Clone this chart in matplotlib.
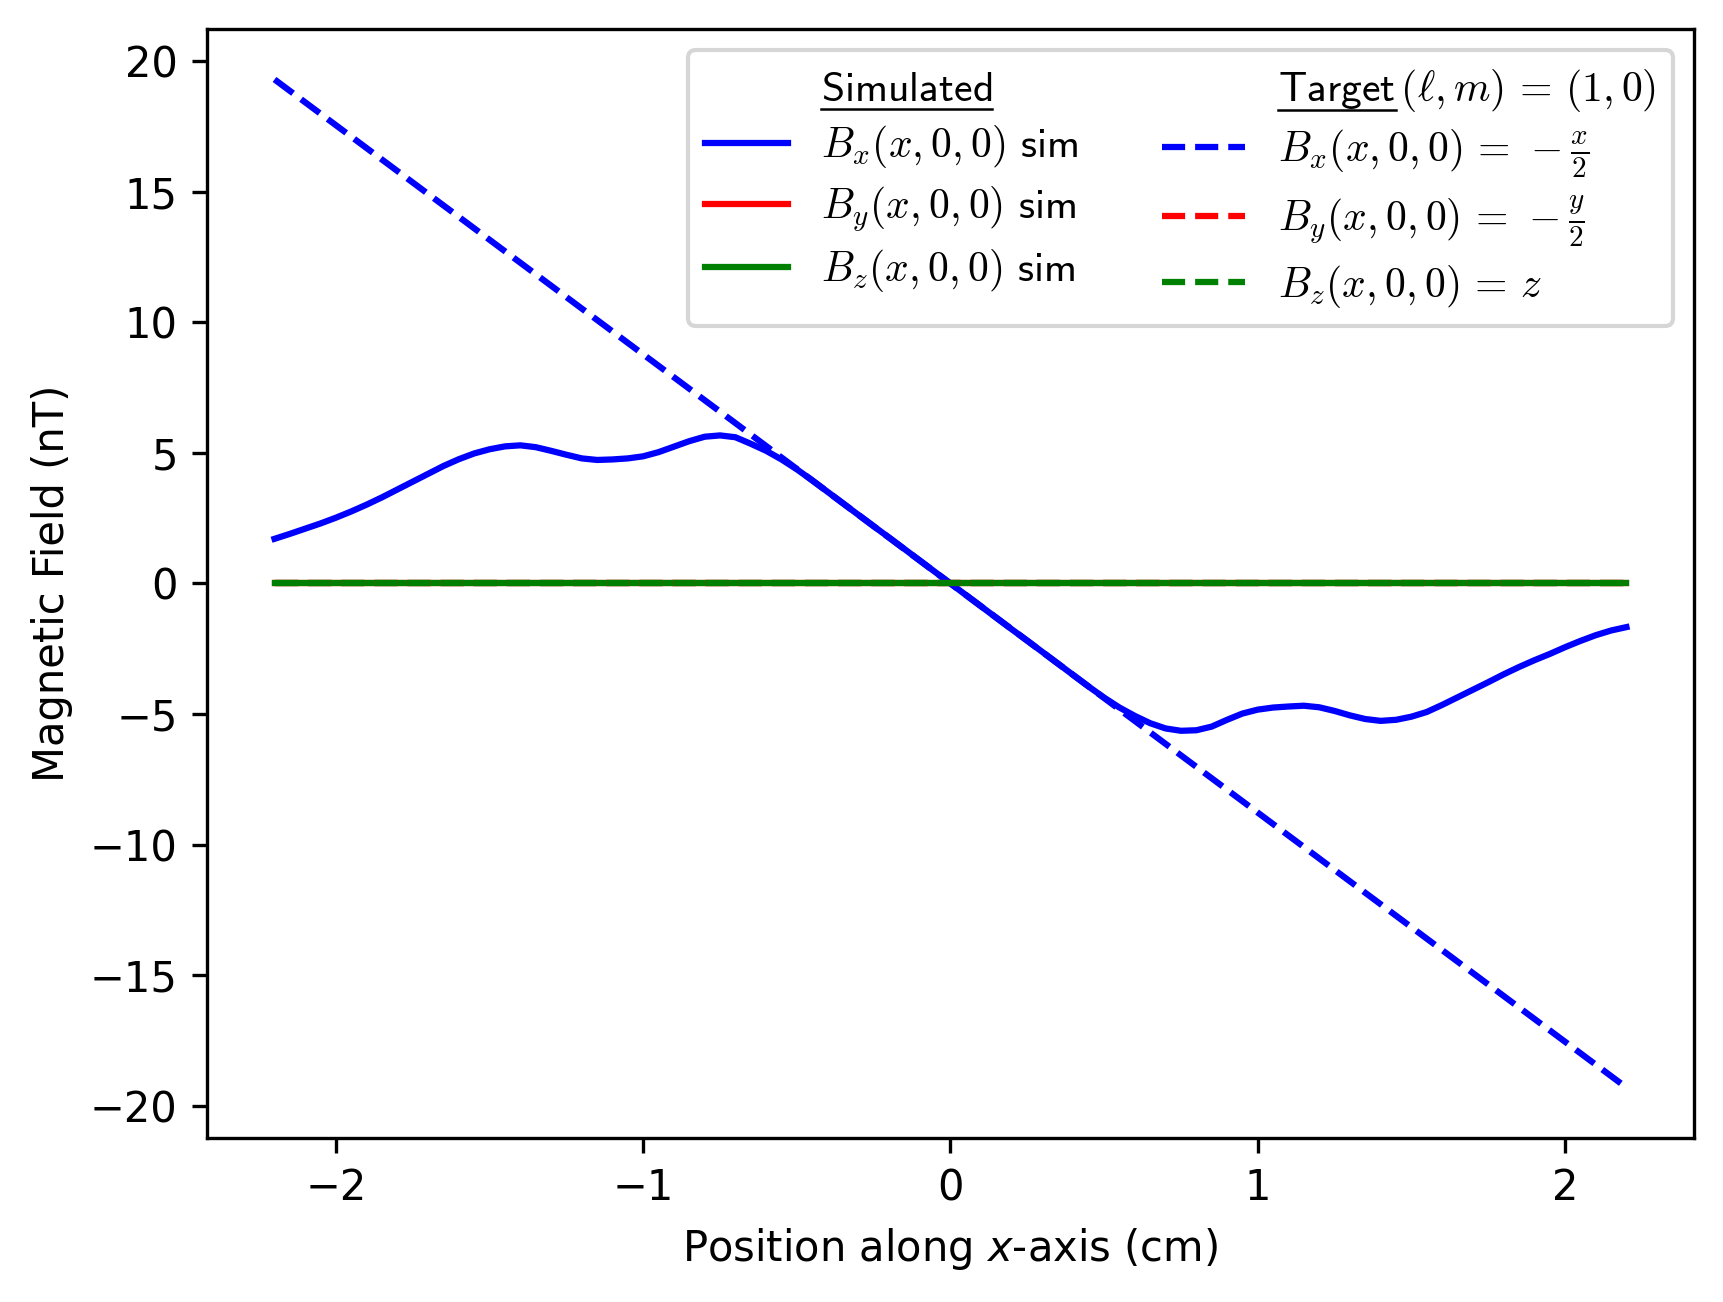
import numpy as np
import matplotlib
matplotlib.use("Agg")
import matplotlib.pyplot as plt
from matplotlib.lines import Line2D

# ---- data ------------------------------------------------------------
x_sim = np.linspace(-2.2, 2.2, 89)
bx_sim = [1.71, 1.90, 2.10, 2.30, 2.52, 2.76, 3.02, 3.30, 3.60, 3.90,
          4.20, 4.50, 4.76, 4.98, 5.14, 5.25, 5.29, 5.22, 5.08, 4.93,
          4.79, 4.73, 4.75, 4.79, 4.87, 5.03, 5.24, 5.45, 5.62, 5.67,
          5.60, 5.35, 5.08, 4.75, 4.37, 3.95, 3.51, 3.07, 2.63, 2.19,
          1.76, 1.32, 0.88, 0.44, 0.0, -0.44, -0.88, -1.32, -1.76, -2.19,
          -2.63, -3.07, -3.51, -3.95, -4.37, -4.75, -5.07, -5.35, -5.55, -5.64,
          -5.62, -5.48, -5.22, -4.98, -4.83, -4.75, -4.71, -4.68, -4.74, -4.88,
          -5.05, -5.19, -5.26, -5.22, -5.10, -4.92, -4.65, -4.36, -4.07, -3.78,
          -3.48, -3.20, -2.94, -2.70, -2.44, -2.20, -1.98, -1.80, -1.67]
by_sim = [0.0] * len(x_sim)
bz_sim = [0.0] * len(x_sim)

x_target = [-2.2, 2.2]
bx_target = [19.3, -19.3]
by_target = [0.0, 0.0]
bz_target = [0.0, 0.0]

# ---- figure -----------------------------------------------------------
fig = plt.figure(figsize=(1723 / 300, 1302 / 300), dpi=300)
ax = fig.add_axes([0.1201, 0.126, 0.9832 - 0.1201, 0.9777 - 0.126])

l_bx, = ax.plot(x_sim, bx_sim, color='blue', label=r'$B_x(x, 0, 0)$ $\mathsf{sim}$')
l_by, = ax.plot(x_sim, by_sim, color='red', label=r'$B_y(x, 0, 0)$ $\mathsf{sim}$')
l_bz, = ax.plot(x_sim, bz_sim, color='green', label=r'$B_z(x, 0, 0)$ $\mathsf{sim}$')
t_bx, = ax.plot(x_target, bx_target, '--', color='blue',
                label=r'$B_x(x, 0, 0) \,=\, -\frac{x}{2}$')
t_by, = ax.plot(x_target, by_target, '--', color='red',
                label=r'$B_y(x, 0, 0) \,=\, -\frac{y}{2}$')
t_bz, = ax.plot(x_target, bz_target, '--', color='green',
                label=r'$B_z(x, 0, 0) \,=\, z$')

ax.set_xlabel(r'Position along $x$-axis (cm)')
ax.set_ylabel('Magnetic Field (nT)')

# legend with a header row in each column
blank = Line2D([], [], linestyle='none')
handles = [blank, l_bx, l_by, l_bz, blank, t_bx, t_by, t_bz]
labels = [r'$\mathsf{Simulated}$', l_bx.get_label(), l_by.get_label(), l_bz.get_label(),
          r'$\mathsf{Target}\,(\ell, m) \,=\, (1, 0)$',
          t_bx.get_label(), t_by.get_label(), t_bz.get_label()]
leg = ax.legend(handles, labels, ncol=2, loc='upper right', labelspacing=0.33,
                prop={'math_fontfamily': 'cm', 'size': 10})

# underline the two headers (mathtext has no \underline)
fig.canvas.draw()
renderer = fig.canvas.get_renderer()
texts = leg.get_texts()
for idx, word in [(0, r'$\mathsf{Simulated}$'), (4, r'$\mathsf{Target}$')]:
    txt = texts[idx]
    tmp = fig.text(0, 0, word, fontproperties=txt.get_fontproperties())
    bb = tmp.get_window_extent(renderer)
    base = fig.transFigure.transform((0, 0))[1]
    depth = max(base - bb.y0, 0)
    width = bb.width
    tmp.remove()
    x0, yb = txt.get_transform().transform(txt.get_position())
    y = yb - depth + 1
    p0 = fig.transFigure.inverted().transform((x0, y))
    p1 = fig.transFigure.inverted().transform((x0 + width, y))
    fig.add_artist(Line2D([p0[0], p1[0]], [p0[1], p1[1]], color='black',
                          linewidth=0.6, transform=fig.transFigure, zorder=10))

fig.savefig('out.png', dpi=300)
